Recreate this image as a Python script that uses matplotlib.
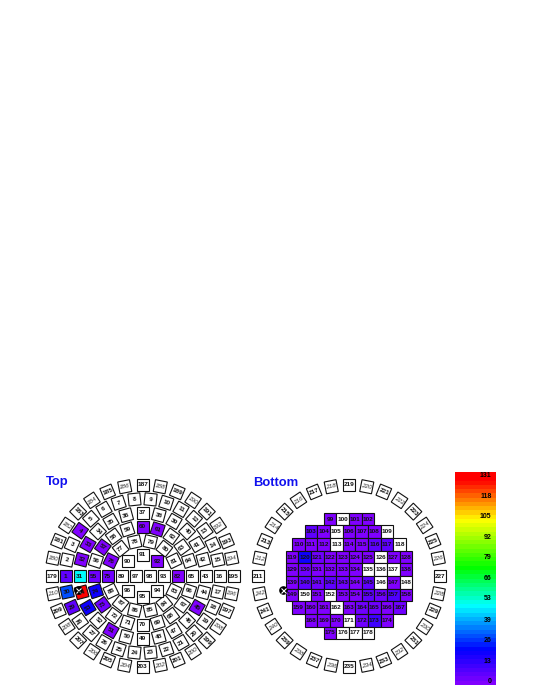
import numpy as np
import matplotlib
matplotlib.use('Agg')
import matplotlib.pyplot as plt
from matplotlib.colors import LinearSegmentedColormap
from matplotlib.patches import Rectangle

plt.rcParams['font.family'] = ['Liberation Sans', 'DejaVu Sans']

# hit counts per channel, everything not listed is empty (drawn white)
top_ids = [1, 4, 29, 30, 31, 32, 33, 45, 51, 53, 54, 55, 57, 60, 61, 73, 74, 75, 76, 82, 92]
top_vals = [4, 0, 6, 30, 47, 0, 0, 0, 0, 19, 131, 1, 0, 0, 0, 1, 18, 1, 0, 0, 0]

bottom_empty = [100, 105, 109, 113, 118, 126, 135, 136, 137, 146, 148, 150, 152, 162, 171, 176, 177, 178]
bottom_bluer = {103: 4, 116: 4, 117: 4, 120: 19, 121: 3, 130: 3, 140: 6, 141: 3, 142: 5, 143: 3,
                145: 5, 155: 6, 156: 3, 157: 8, 164: 3, 165: 3, 172: 3, 173: 10, 167: 3}
bottom_default = 0

# channels per ring, outer ring is drawn the same on both faces
top_rings = [30, 24, 20, 14, 8]
outer_ring = 32
bottom_rows = [(99, 4), (103, 7), (110, 9), (119, 10), (129, 10), (139, 10), (149, 10), (159, 9), (168, 7), (175, 4)]

cbar_ticks = [0, 13, 26, 39, 53, 66, 79, 92, 105, 118, 131]
vmin, vmax = -2.0, 133.5

palette = LinearSegmentedColormap.from_list('root_rainbow', [
    (0.0, (0.5, 0.0, 1.0)),
    (0.16, (0.0, 0.0, 1.0)),
    (0.37, (0.0, 1.0, 1.0)),
    (0.55, (0.0, 1.0, 0.0)),
    (0.78, (1.0, 1.0, 0.0)),
    (0.97, (1.0, 0.0, 0.0)),
    (1.0, (1.0, 0.0, 0.0))], N=50)


def color_of(value):
    if value is None:
        return 'white'
    return palette((value - vmin) / (vmax - vmin))


def text_angle(rot):
    # labels stay readable: fold the box angle into -45..45
    return (rot + 45) % 90 - 45


def draw_cell(ax, x, y, size, rot, num, value=None, faint=False):
    # y axis is flipped (pixels), so the box angle has its sign swapped
    ax.add_patch(Rectangle((x - size / 2, y - size / 2), size, size, angle=-rot,
                           rotation_point='center', facecolor=color_of(value),
                           edgecolor='#111111', linewidth=0.8))
    if faint:
        ax.text(x, y, str(num), ha='center', va='center', fontsize=4.6, style='italic',
                color='#333333', rotation=text_angle(rot), rotation_mode='anchor')
    else:
        ax.text(x, y, str(num), ha='center', va='center', fontsize=4.6, fontweight='bold',
                color='#111111', rotation=text_angle(rot), rotation_mode='anchor')


def draw_ring(ax, cx, cy, radius, count, first, values=None, flat=False):
    values = values or {}
    for i in range(count):
        theta = 180 - i * 360 / count
        x = cx + radius * np.cos(np.radians(theta))
        y = cy - radius * np.sin(np.radians(theta))
        rot = 0 if flat else theta - 90
        num = first + i
        faint = count == outer_ring and num % 2 == 0
        draw_cell(ax, x, y, 12, rot, num, values.get(num), faint)


def draw_marker(ax, x, y):
    ax.plot(x, y, 'o', color='black', markersize=5.2)
    ax.plot(x, y, 'x', color='white', markersize=3.6, markeredgewidth=0.8)


fig = plt.figure(figsize=(5.4, 6.99), dpi=100)
ax = fig.add_axes([0, 0, 1, 1])
ax.set_xlim(0, 540)
ax.set_ylim(699, 0)
ax.axis('off')

# top face
top_hits = dict(zip(top_ids, top_vals))
cx, cy = 142.5, 576
draw_ring(ax, cx, cy, 91, outer_ring, 179)
first = 1
for k, count in enumerate(top_rings):
    draw_ring(ax, cx, cy, 77 - 14 * k, count, first, top_hits, flat=count == 8)
    first += count
draw_cell(ax, cx - 7, cy, 12, 0, 97, top_hits.get(97))
draw_cell(ax, cx + 7, cy, 12, 0, 98, top_hits.get(98))
draw_marker(ax, 78, 590)
ax.text(46, 482, 'Top', color='#1010ee', fontsize=9.4, fontweight='bold', ha='left', va='center')

# bottom face
cx, cy = 349, 576
draw_ring(ax, cx, cy, 91, outer_ring, 211)
pitch = 12.65
for r, (first, count) in enumerate(bottom_rows):
    y = cy + (r - 4.5) * pitch
    for i in range(count):
        num = first + i
        x = cx + (i - (count - 1) / 2) * pitch
        if num in bottom_empty:
            value = None
        else:
            value = bottom_bluer.get(num, bottom_default)
        draw_cell(ax, x, y, pitch, 0, num, value)
draw_marker(ax, 283, 590)
ax.text(253, 483, 'Bottom', color='#1010ee', fontsize=9.4, fontweight='bold', ha='left', va='center')

# colour scale
cax = fig.add_axes([455 / 540, 1 - 685 / 699, 41 / 540, 213 / 699])
levels = np.linspace(vmin, vmax, 51)
cax.pcolormesh([0, 1], levels, (levels[:-1] + levels[1:]).reshape(-1, 1) / 2, cmap=palette,
               vmin=vmin, vmax=vmax)
cax.set_xlim(0, 1)
cax.set_ylim(vmin, vmax)
cax.axis('off')
for t in cbar_ticks:
    cax.text(0.89, t, str(t), ha='right', va='center', fontsize=5.0, fontweight='bold', color='black')

fig.savefig('out.png', dpi=100)
